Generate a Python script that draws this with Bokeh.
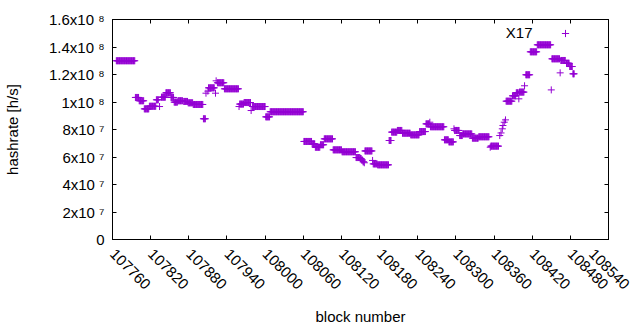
import math
from bokeh.plotting import figure
from bokeh.models import Range1d, FixedTicker, LinearAxis, Legend, LegendItem, Label, ColumnDataSource
from bokeh.embed import file_html
from bokeh.resources import INLINE

# runs of consecutive blocks sharing the same hashrate (values in 1e6 h/s)
run_start = [107766, 107796, 107802, 107810, 107818, 107829, 107834, 107837, 107844, 107852,
             107857, 107863, 107872, 107879, 107887, 107903, 107907, 107910, 107911, 107922,
             107923, 107925, 107936, 107959, 107960, 107967, 107978, 107980, 108001, 108008,
             108061, 108074, 108079, 108087, 108093, 108107, 108121, 108143, 108150, 108152,
             108154, 108156, 108157, 108169, 108170, 108177, 108195, 108199, 108208, 108216,
             108229, 108243, 108253, 108259, 108260, 108282, 108289, 108297, 108298, 108306,
             108311, 108326, 108336, 108354, 108355, 108369, 108371, 108373, 108374, 108376,
             108378, 108379, 108389, 108395, 108399, 108400, 108408, 108410, 108417, 108428,
             108450, 108451, 108464, 108465, 108474, 108479, 108484]
run_end = [107795, 107801, 107809, 107817, 107828, 107832, 107834, 107843, 107851, 107856,
           107862, 107870, 107878, 107886, 107902, 107906, 107907, 107910, 107920, 107922,
           107923, 107935, 107958, 107959, 107966, 107977, 107978, 108000, 108007, 108060,
           108073, 108078, 108086, 108092, 108106, 108120, 108142, 108149, 108151, 108153,
           108155, 108156, 108168, 108169, 108176, 108194, 108198, 108207, 108215, 108228,
           108242, 108252, 108258, 108259, 108281, 108288, 108296, 108297, 108305, 108310,
           108325, 108335, 108352, 108354, 108367, 108369, 108371, 108373, 108374, 108376,
           108378, 108388, 108394, 108398, 108399, 108407, 108408, 108416, 108427, 108449,
           108450, 108463, 108464, 108472, 108478, 108483, 108486]
run_value = [130.0, 103.3, 100.9, 95.0, 96.9, 101.6, 96.7, 103.5, 106.7, 103.3,
             99.9, 100.9, 100.4, 99.4, 98.2, 87.8, 106.4, 107.9, 110.3, 106.4,
             115.4, 114.0, 109.6, 96.7, 98.5, 99.6, 93.8, 96.7, 89.2, 92.9,
             71.3, 69.6, 67.1, 68.9, 73.2, 65.2, 63.8, 59.6, 58.9, 57.8,
             56.5, 55.8, 64.4, 57.5, 55.0, 54.3, 72.0, 78.1, 79.3, 77.3,
             76.1, 78.5, 84.1, 85.3, 82.0, 72.5, 71.0, 80.5, 79.3, 75.6,
             76.8, 73.7, 74.7, 67.1, 67.9, 75.6, 77.5, 80.5, 82.9, 85.3,
             87.0, 100.6, 104.5, 106.7, 102.3, 107.2, 111.8, 119.8, 136.5, 141.6,
             108.8, 131.4, 121.2, 130.2, 128.2, 125.8, 120.5]

x_ticks = [107760, 107820, 107880, 107940, 108000, 108060, 108120, 108180,
           108240, 108300, 108360, 108420, 108480, 108540]
x_tick_labels = ["107760", "107820", "107880", "107940", "108000", "108060", "108120",
                 "108180", "108240", "108300", "108360", "108420", "108480", "108540"]
y_ticks = [0, 2e7, 4e7, 6e7, 8e7, 1e8, 1.2e8, 1.4e8, 1.6e8]
y_tick_labels = ["0", "2x10 \u2077", "4x10 \u2077", "6x10 \u2077", "8x10 \u2077",
                 "1x10 \u2078", "1.2x10 \u2078", "1.4x10 \u2078", "1.6x10 \u2078"]
series_name = "X17"
x_title = "block number"
y_title = "hashrate [h/s]"

blocks, rates = [], []
for s, e, v in zip(run_start, run_end, run_value):
    for b in range(s, e + 1):
        blocks.append(b)
        rates.append(v * 1e6)
src = ColumnDataSource(dict(block=blocks, rate=rates))

FONT = "Liberation Sans"
FS = "15px"
COLOR = "#9400D3"

p = figure(frame_width=496, frame_height=220, output_backend="svg", toolbar_location=None,
           x_range=Range1d(x_ticks[0], x_ticks[-1]), y_range=Range1d(y_ticks[0], y_ticks[-1]),
           min_border_left=106, min_border_right=22, min_border_top=19, min_border_bottom=60,
           background_fill_color="white", border_fill_color="white")
p.grid.visible = False
p.outline_line_color = "black"
p.outline_line_width = 1

r = p.scatter("block", "rate", source=src, marker="cross", size=7, line_width=1,
              line_color=COLOR)

xt = FixedTicker(ticks=x_ticks)
yt = FixedTicker(ticks=y_ticks)

bottom = p.below[0]
left = p.left[0]

bottom.ticker = xt
bottom.major_label_overrides = {t: l for t, l in zip(x_ticks, x_tick_labels)}
bottom.major_label_orientation = -math.pi / 4
bottom.major_label_standoff = 12
bottom.axis_label = x_title
bottom.axis_label_standoff = 11

left.ticker = yt
left.major_label_overrides = {t: l for t, l in zip(y_ticks, y_tick_labels)}
left.major_label_standoff = 8
left.axis_label = y_title
left.axis_label_standoff = 25

top = LinearAxis(ticker=xt, major_label_overrides={t: "" for t in x_ticks},
                 major_label_standoff=0)
right = LinearAxis(ticker=yt, major_label_overrides={t: "" for t in y_ticks},
                   major_label_standoff=0)
p.add_layout(top, "above")
p.add_layout(right, "right")

for ax in [bottom, left, top, right]:
    ax.major_tick_in = 4
    ax.major_tick_out = 0
    ax.minor_tick_in = 0
    ax.minor_tick_out = 0
    ax.axis_line_color = "black"
    ax.major_tick_line_color = "black"
    ax.major_label_text_font = FONT
    ax.major_label_text_font_size = FS
    ax.major_label_text_color = "black"
    ax.axis_label_text_font = FONT
    ax.axis_label_text_font_style = "normal"
    ax.axis_label_text_font_size = FS
    ax.axis_label_text_color = "black"

legend = Legend(items=[LegendItem(label=" ", renderers=[r])], location=(444, 197),
                padding=0, margin=0, spacing=0, border_line_color=None,
                background_fill_alpha=0, glyph_width=18, glyph_height=18,
                label_height=18, label_width=0, label_standoff=0,
                label_text_font_size="1px")
p.add_layout(legend, "center")
p.add_layout(Label(x=420, y=207, x_units="screen", y_units="screen", text=series_name,
                   text_font=FONT, text_font_size=FS, text_align="right",
                   text_baseline="middle", text_color="black"))

open("out.html", "w").write(file_html(p, INLINE))
